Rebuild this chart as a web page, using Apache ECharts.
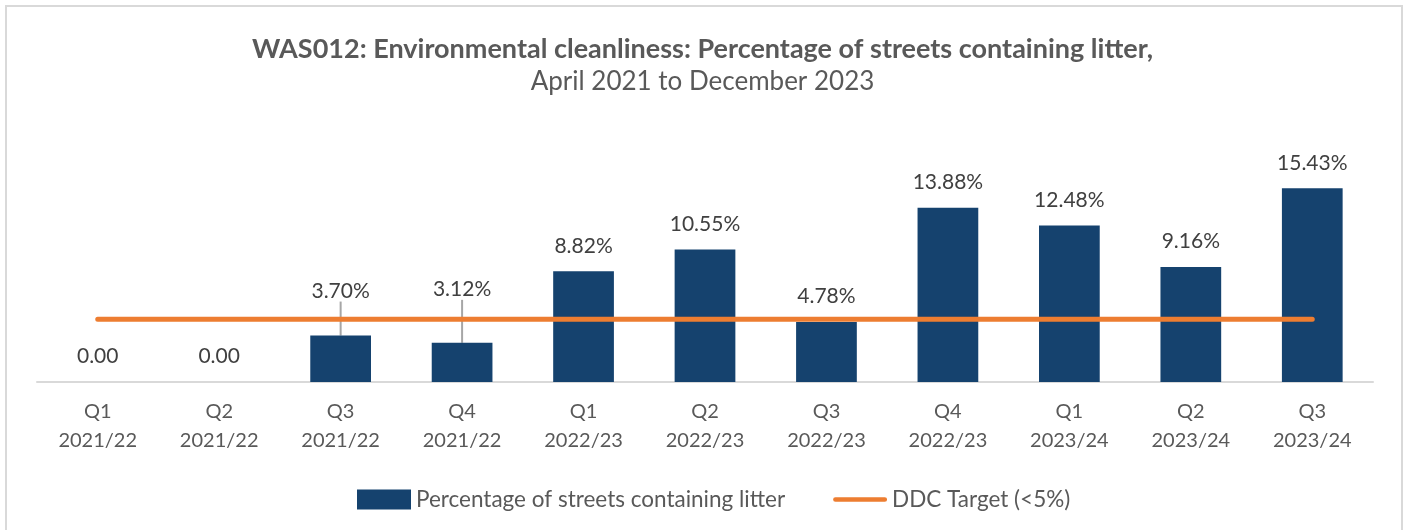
<!DOCTYPE html>
<html>
<head>
<meta charset="utf-8">
<script src="https://cdn.jsdelivr.net/npm/echarts@6/dist/echarts.min.js"></script>
<style>
  html, body { margin: 0; padding: 0; background: #fff; }
  #chart { width: 1405px; height: 530px; }
</style>
</head>
<body>
<div id="chart"></div>
<script>
// Quarter labels (two lines: quarter / financial year)
const quarters = ['Q1', 'Q2', 'Q3', 'Q4', 'Q1', 'Q2', 'Q3', 'Q4', 'Q1', 'Q2', 'Q3'];
const years = ['2021/22', '2021/22', '2021/22', '2021/22', '2022/23', '2022/23', '2022/23', '2022/23', '2023/24', '2023/24', '2023/24'];
// Percentage of streets containing litter
const litterPct = [0, 0, 3.70, 3.12, 8.82, 10.55, 4.78, 13.88, 12.48, 9.16, 15.43];
// DDC target line
const targetPct = [5, 5, 5, 5, 5, 5, 5, 5, 5, 5, 5];

const categories = quarters.map((q, i) => q + '\n' + years[i]);
const FONT = 'Lato, "Open Sans", sans-serif';
const TEXT = '#595959';

// Labels that would collide with the target line are lifted and get a leader line
const lifted = { 2: -19, 3: -28 };
const barData = litterPct.map((v, i) =>
  i in lifted ? { value: v, labelLine: { show: true } } : v
);

// Thin horizontal stroke for the target legend key (moveTo points keep the box height)
const lineIcon = 'path://M0,0 M2.5,7.5 L54.5,7.5 A2.5,2.5 0 0 1 54.5,12.5 L2.5,12.5 A2.5,2.5 0 0 1 2.5,7.5 Z M57,20';

const chart = echarts.init(document.getElementById('chart'));
chart.setOption({
  animation: false,
  textStyle: { fontFamily: FONT },
  title: {
    text: 'WAS012: Environmental cleanliness: Percentage of streets containing litter,',
    subtext: 'April 2021 to December 2023',
    left: 'center',
    top: 31,
    itemGap: 6,
    textStyle: { fontFamily: FONT, fontSize: 27, fontWeight: 'bold', color: TEXT },
    subtextStyle: { fontFamily: FONT, fontSize: 26, color: TEXT }
  },
  graphic: [{
    type: 'rect',
    shape: { x: 6, y: 6, width: 1396, height: 540 },
    style: { fill: 'none', stroke: '#D9D9D9', lineWidth: 2 },
    silent: true
  }],
  legend: {
    top: 483,
    left: 352,
    itemGap: 48,
    itemWidth: 54,
    itemHeight: 20,
    textStyle: { fontFamily: FONT, fontSize: 22.5, color: TEXT },
    data: [
      { name: 'Percentage of streets containing litter', icon: 'rect' },
      { name: 'DDC Target (<5%)', icon: lineIcon }
    ]
  },
  grid: { left: 37, right: 32, top: 131, bottom: 148 },
  xAxis: {
    type: 'category',
    data: categories,
    axisTick: { show: false },
    axisLine: { lineStyle: { color: '#D9D9D9', width: 2 } },
    axisLabel: { fontFamily: FONT, fontSize: 20, color: TEXT, lineHeight: 29, margin: 15 }
  },
  yAxis: {
    type: 'value',
    min: 0,
    max: 20,
    show: false,
    splitLine: { show: false }
  },
  series: [
    {
      name: 'Percentage of streets containing litter',
      type: 'bar',
      data: barData,
      barWidth: '50%',
      itemStyle: { color: '#15426e' },
      label: {
        show: true,
        position: 'top',
        distance: 15,
        fontFamily: FONT,
        fontSize: 21,
        color: '#404040',
        formatter: p => p.value === 0 ? '0.00' : p.value.toFixed(2) + '%'
      },
      labelLine: { show: false, lineStyle: { color: '#A6A6A6', width: 2 } },
      labelLayout: p => (p.dataIndex in lifted ? { dy: lifted[p.dataIndex] } : {}),
      z: 2
    },
    {
      name: 'DDC Target (<5%)',
      type: 'line',
      data: targetPct,
      symbol: 'none',
      itemStyle: { color: '#ED7D31' },
      lineStyle: { color: '#ED7D31', width: 5, cap: 'round' },
      z: 3
    }
  ]
});
</script>
</body>
</html>
